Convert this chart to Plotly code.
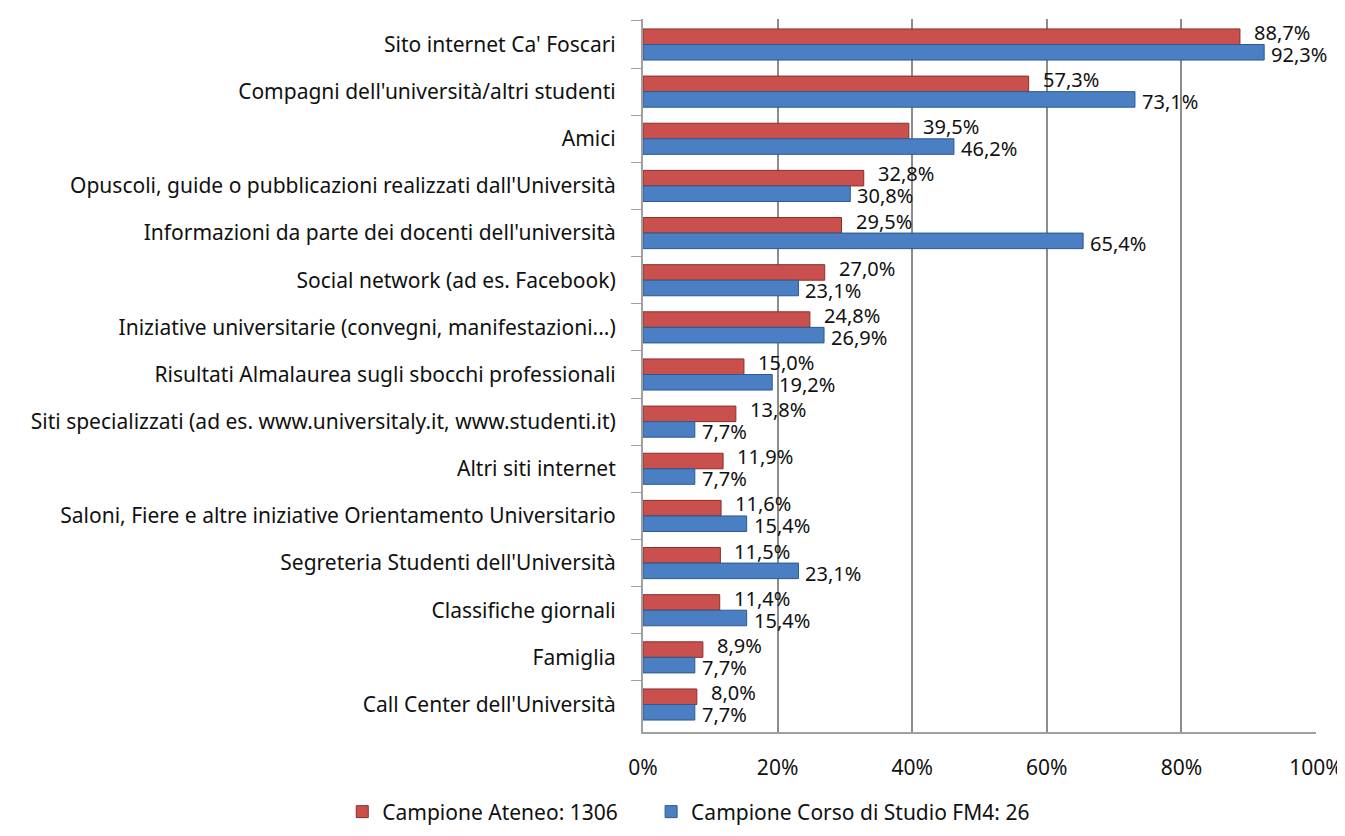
import plotly.graph_objects as go

categories = [
    "Sito internet Ca' Foscari",
    "Compagni dell'università/altri studenti",
    "Amici",
    "Opuscoli, guide o pubblicazioni realizzati dall'Università",
    "Informazioni da parte dei docenti dell'università",
    "Social network (ad es. Facebook)",
    "Iniziative universitarie (convegni, manifestazioni...)",
    "Risultati Almalaurea sugli sbocchi professionali",
    "Siti specializzati (ad es. www.universitaly.it, www.studenti.it)",
    "Altri siti internet",
    "Saloni, Fiere e altre iniziative Orientamento Universitario",
    "Segreteria Studenti dell'Università",
    "Classifiche giornali",
    "Famiglia",
    "Call Center dell'Università",
]
ateneo = [88.7, 57.3, 39.5, 32.8, 29.5, 27.0, 24.8, 15.0, 13.8, 11.9, 11.6, 11.5, 11.4, 8.9, 8.0]
corso = [92.3, 73.1, 46.2, 30.8, 65.4, 23.1, 26.9, 19.2, 7.7, 7.7, 15.4, 23.1, 15.4, 7.7, 7.7]
series_names = ["Campione Ateneo: 1306", "Campione Corso di Studio FM4: 26"]
x_ticks = [0, 20, 40, 60, 80, 100]

def fmt(v):
    return f"{v:.1f}%".replace(".", ",")

FONT = "Noto Sans"
W, H = 1337, 828  # page body has an 8px margin

fig = go.Figure()
fig.add_trace(go.Bar(
    y=categories, x=ateneo, orientation="h", name=series_names[0],
    marker=dict(color="#C9504C", line=dict(color="#8C2F2C", width=1)),
    hoverinfo="x+y", legend="legend",
))
fig.add_trace(go.Bar(
    y=categories, x=corso, orientation="h", name=series_names[1],
    marker=dict(color="#4A7FC4", line=dict(color="#2C5A8F", width=1)),
    hoverinfo="x+y", legend="legend2",
))

annotations = []
for cat, a, c in zip(categories, ateneo, corso):
    annotations.append(dict(x=a, y=cat, xref="x", yref="y", text=fmt(a), showarrow=False,
                            xanchor="left", yanchor="middle", xshift=12, yshift=12,
                            font=dict(family=FONT, size=20, color="#111")))
    annotations.append(dict(x=c, y=cat, xref="x", yref="y", text=fmt(c), showarrow=False,
                            xanchor="left", yanchor="middle", xshift=5, yshift=-10,
                            font=dict(family=FONT, size=20, color="#111")))

legend_common = dict(orientation="h", xref="container", yref="container", y=0.029,
                     xanchor="left", yanchor="middle", font=dict(size=21), itemwidth=30)

fig.update_layout(
    width=W, height=H,
    barmode="group", bargap=0.34, bargroupgap=0.0,
    paper_bgcolor="white", plot_bgcolor="white",
    margin=dict(l=635, r=29, t=11, b=104),
    font=dict(family=FONT, size=21, color="#111"),
    annotations=annotations,
    xaxis=dict(range=[0, 100], tickvals=x_ticks, ticktext=[f"{t}%" for t in x_ticks],
               showgrid=True, gridcolor="#8C8C8C", gridwidth=2,
               showline=True, linecolor="#A0A0A0", linewidth=2,
               ticks="", ticklabelstandoff=16, tickfont=dict(size=21),
               zeroline=False, automargin=False),
    yaxis=dict(autorange="reversed", showline=True, linecolor="#A0A0A0", linewidth=2,
               ticks="outside", tickson="boundaries", ticklen=10, tickcolor="#A0A0A0",
               ticklabelstandoff=21, tickfont=dict(size=21), automargin=False),
    legend=dict(x=0.25, **legend_common),
    legend2=dict(x=0.481, **legend_common),
    showlegend=True,
)
fig.write_html("out.html")
